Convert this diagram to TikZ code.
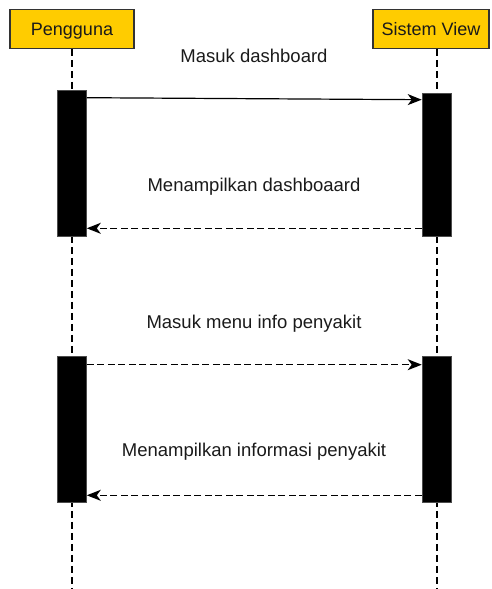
\documentclass[tikz,border=0pt]{standalone}
\usepackage{fontspec}
\setmainfont{Liberation Sans}
\usetikzlibrary{arrows.meta}
\definecolor{actorfill}{HTML}{FFCC00}
\definecolor{actorline}{HTML}{333333}
\definecolor{txt}{HTML}{1A1A1A}
\tikzset{
  actor/.style={draw=actorline, fill=actorfill, line width=1.2pt, text=txt, font=\fontsize{18}{22}\selectfont, text height=13pt, text depth=0pt},
  lifeline/.style={line width=1.2pt, dash pattern=on 7pt off 4pt},
  activation/.style={fill=black, draw=black!70, line width=0.6pt, minimum width=29pt, inner sep=0pt},
  msg/.style={line width=1.2pt, -{Stealth[length=14pt, width=11pt, inset=4pt]}},
  reply/.style={msg, dash pattern=on 7pt off 3.5pt},
  msglabel/.style={anchor=base, text=txt, font=\fontsize{18.5}{22}\selectfont}
}
\begin{document}
\begin{tikzpicture}[x=1pt, y=-1pt]
\useasboundingbox (0,0) rectangle (492,589);
% Actors
\node[actor, minimum width=124pt, minimum height=39pt] (pengguna) at (72,28.7) {Pengguna};
\node[actor, minimum width=116pt, minimum height=39pt] (sistem) at (431,28.7) {Sistem View};
\coordinate (pend) at (72,589);
\coordinate (send) at (437,589);
% Lifelines
\draw[lifeline] (pengguna.south) -- (pend);
\draw[lifeline] (pengguna.south -| send) -- (send);
% Activations
\node[activation, minimum height=146pt] (pa1) at (72,163) {};
\node[activation, minimum height=143pt] (sa1) at (436.5,164.5) {};
\node[activation, minimum height=146pt] (pa2) at (72,429) {};
\node[activation, minimum height=146pt] (sa2) at (436.5,429) {};
% Messages
\draw[msg] ([yshift=-8pt]pa1.north east) -- ([yshift=-7pt]sa1.north west);
\draw[reply] ([yshift=8pt]sa1.south west) -- ([yshift=8pt]pa1.south east);
\draw[reply] ([yshift=-9pt]pa2.north east) -- ([yshift=-9pt]sa2.north west);
\draw[reply] ([yshift=7pt]sa2.south west) -- ([yshift=7pt]pa2.south east);
% Labels
\node[msglabel] (l1) at (254,62) {Masuk dashboard};
\node[msglabel] (l2) at (254,191) {Menampilkan dashboaard};
\node[msglabel] (l3) at (254,328) {Masuk menu info penyakit};
\node[msglabel] (l4) at (254,456) {Menampilkan informasi penyakit};
\end{tikzpicture}
\end{document}
